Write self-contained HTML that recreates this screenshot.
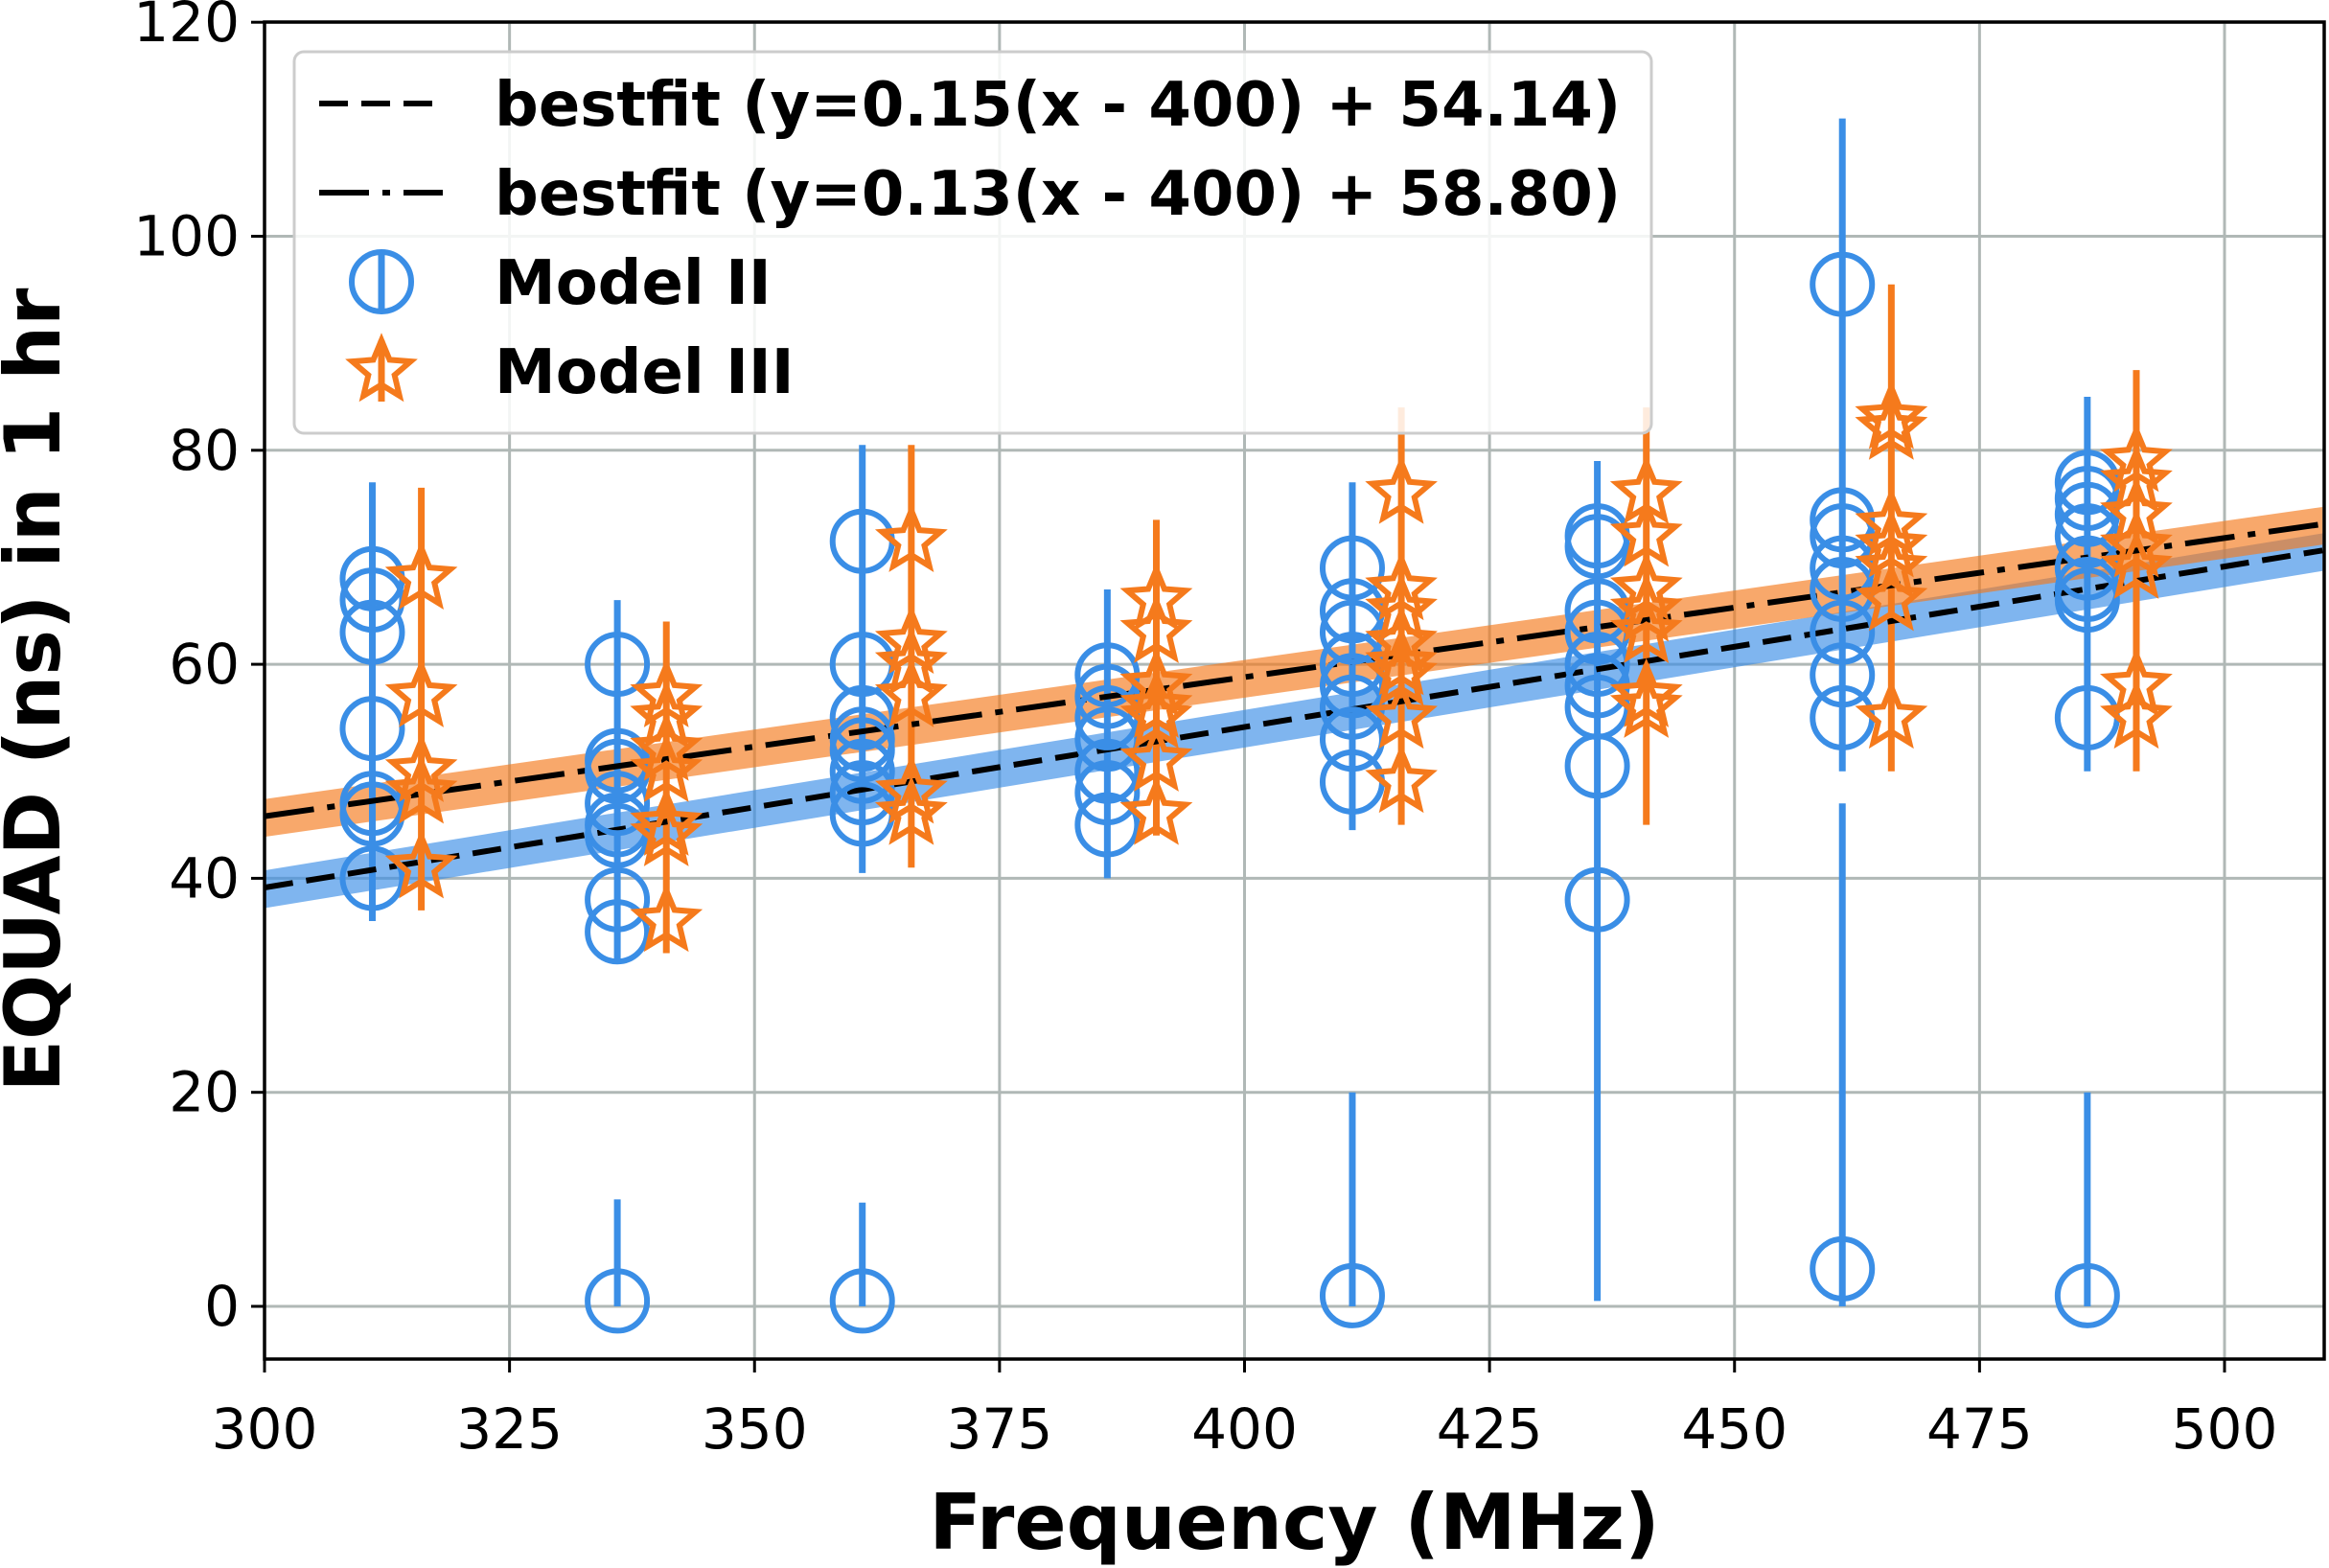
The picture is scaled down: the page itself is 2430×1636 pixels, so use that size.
<!DOCTYPE html>
<html><head><meta charset="utf-8"><style>
html,body{margin:0;padding:0;background:#fff}
svg{display:block}
text{font-family:"DejaVu Sans","Liberation Sans",sans-serif}
</style></head><body>
<svg id="chart" width="2430" height="1636" viewBox="0 0 2430 1636" xmlns="http://www.w3.org/2000/svg"></svg>
<script>
const xTicks=[300,325,350,375,400,425,450,475,500];
const yTicks=[0,20,40,60,80,100,120];
const circleX=[311,336,361,386,411,436,461,486];
const circleVals=[
[68,66,63,54,47,46,40],
[60,51,50,47,45,44,38,35,0.5],
[71.5,60,55,53,52,50,48,46,0.5],
[59,57,55,53,50,48,45],
[69,65,63,60,58,56,53,49,1],
[72,71,65,63,60,58,56,50.5,38],
[95.5,73.5,72,69,67,63,59,55,3.5],
[77,75.5,74,72,69,67,66,55,1]];
const circleErrLo=[36,32,40.5,40,44.5,0.5,50,50];
const circleErrHi=[77,66,80.5,67,77,79,111,85];
const circleLowHi=[null,10,9.7,null,20,null,47,20];
const starX=[316,341,366,391,416,441,466,491];
const starVals=[
[68,57,50,48,41],
[57,55,52,50,45,44,36],
[71.5,62,60,57,48,46],
[66,63,58,56,55,51,46],
[76,67,65,62,60,59,55,49],
[76,72,67,65,63,57,56],
[83,82,73,71,69,66,55],
[79,77,74,71,69,58,55]];
const starErrLo=[37,33,41,44,45,45,50,50];
const starErrHi=[76.5,64,80.5,73.5,84,84,95.5,87.5];
const fit1=[0.15,54.14], fit2=[0.13,58.80];

const L=276,R=2425,T=23,B=1418;
const X=v=>276+(v-300)*(2321-276)/200;
const Y=v=>1363-v*(1363-23.2)/120;
const svg=document.getElementById('chart');
const NS='http://www.w3.org/2000/svg';
function mk(tag,attrs,parent){const e=document.createElementNS(NS,tag);for(const k in attrs)e.setAttribute(k,attrs[k]);(parent||svg).appendChild(e);return e;}

xTicks.forEach(t=>{const g=mk('line',{x1:X(t),x2:X(t),y1:T,y2:B,stroke:'#b0b8b6','stroke-width':3});


const tk=mk('line',{x1:X(t),x2:X(t),y1:B,y2:B+14,stroke:'#000','stroke-width':3});


const tx=mk('text',{x:X(t),y:B+93,'font-size':58,'text-anchor':'middle'});tx.textContent=t;

});
yTicks.forEach(t=>{const g=mk('line',{x1:L,x2:R,y1:Y(t),y2:Y(t),stroke:'#b0b8b6','stroke-width':3});


const tk=mk('line',{x1:L-14,x2:L,y1:Y(t),y2:Y(t),stroke:'#000','stroke-width':3});


const tx=mk('text',{x:L-26,y:Y(t)+20,'font-size':58,'text-anchor':'end'});tx.textContent=t;

});

const cl=mk('clipPath',{id:'clip'});mk('rect',{x:L,y:T,width:R-L,height:B-T},cl);
const plot=mk('g',{'clip-path':'url(#clip)'});


function band(fit,w,color,name){const x0=300,x1=510;
const pts=[[x0,fit[0]*(x0-400)+fit[1]+w],[x1,fit[0]*(x1-400)+fit[1]+w],[x1,fit[0]*(x1-400)+fit[1]-w*1.2],[x0,fit[0]*(x0-400)+fit[1]-w*1.2]];
const p=mk('polygon',{points:pts.map(p=>X(p[0])+','+Y(p[1])).join(' '),fill:color,opacity:0.65},plot);

}
band(fit1,1.6,'#3a8ee6','model-ii-fit-band');
band(fit2,1.6,'#f57a1c','model-iii-fit-band');

function ebar(x,lo,hi,color){const l=mk('line',{x1:X(x),x2:X(x),y1:Y(lo),y2:Y(hi),stroke:color,'stroke-width':7},plot);

}
circleX.forEach((x,i)=>{ebar(x,circleErrLo[i],circleErrHi[i],'#3a8ee6');if(circleLowHi[i]!==null)ebar(x,0,circleLowHi[i],'#3a8ee6');});
starX.forEach((x,i)=>ebar(x,starErrLo[i],starErrHi[i],'#f57a1c'));

function fitLine(fit,dash,name){const l=mk('line',{x1:X(300),y1:Y(fit[0]*(300-400)+fit[1]),x2:X(510),y2:Y(fit[0]*(510-400)+fit[1]),stroke:'#000','stroke-width':6,'stroke-dasharray':dash},plot);

}
fitLine(fit1,'30 14','bestfit-dashed-line');
fitLine(fit2,'52 14 8 14','bestfit-dashdot-line');

function starPts(cx,cy,r){let s=[];for(let k=0;k<10;k++){const a=-Math.PI/2+k*Math.PI/5;const rr=k%2?r*0.45:r;s.push((cx+rr*Math.cos(a)).toFixed(1)+','+(cy+rr*Math.sin(a)).toFixed(1));}return s.join(' ');}
circleX.forEach((x,i)=>circleVals[i].forEach(v=>{const c=mk('circle',{cx:X(x),cy:Y(v),r:31,fill:'none',stroke:'#3a8ee6','stroke-width':6},plot);

}));
starX.forEach((x,i)=>starVals[i].forEach(v=>{const s=mk('polygon',{points:starPts(X(x),Y(v),32),fill:'none',stroke:'#f57a1c','stroke-width':6,'stroke-linejoin':'miter'},plot);

}));

const fr=mk('rect',{x:L,y:T,width:R-L,height:B-T,fill:'none',stroke:'#000','stroke-width':3.5});



const lg=mk('g',{});


mk('rect',{x:307,y:54,width:1416,height:398,rx:10,fill:'#fff','fill-opacity':0.85,stroke:'#ccc','stroke-width':3},lg);
const rows=[108,201,294,387];
const labels=['bestfit (y=0.15(x - 400) + 54.14)','bestfit (y=0.13(x - 400) + 58.80)','Model II','Model III'];
const ln1=mk('line',{x1:333,x2:462,y1:rows[0],y2:rows[0],stroke:'#000','stroke-width':6,'stroke-dasharray':'30 14'},lg);


const ln2=mk('line',{x1:333,x2:462,y1:rows[1],y2:rows[1],stroke:'#000','stroke-width':6,'stroke-dasharray':'52 14 8 14'},lg);


mk('line',{x1:398,x2:398,y1:rows[2]-30,y2:rows[2]+30,stroke:'#3a8ee6','stroke-width':7},lg);
const lc=mk('circle',{cx:398,cy:rows[2],r:31,fill:'none',stroke:'#3a8ee6','stroke-width':6},lg);


mk('line',{x1:398,x2:398,y1:rows[3]-32,y2:rows[3]+32,stroke:'#f57a1c','stroke-width':7},lg);
const ls=mk('polygon',{points:starPts(398,rows[3],32),fill:'none',stroke:'#f57a1c','stroke-width':6},lg);


labels.forEach((t,i)=>{const tx=mk('text',{x:516,y:rows[i]+23,'font-size':64,'font-weight':'bold'},lg);tx.textContent=t;

});

const xt=mk('text',{x:(L+R)/2,y:1616,'font-size':80,'font-weight':'bold','text-anchor':'middle'});xt.textContent='Frequency (MHz)';


const yt=mk('text',{x:0,y:0,'font-size':80,'font-weight':'bold','text-anchor':'middle',transform:'translate(62,720) rotate(-90)'});yt.textContent='EQUAD (ns) in 1 hr';


</script>
</body></html>
